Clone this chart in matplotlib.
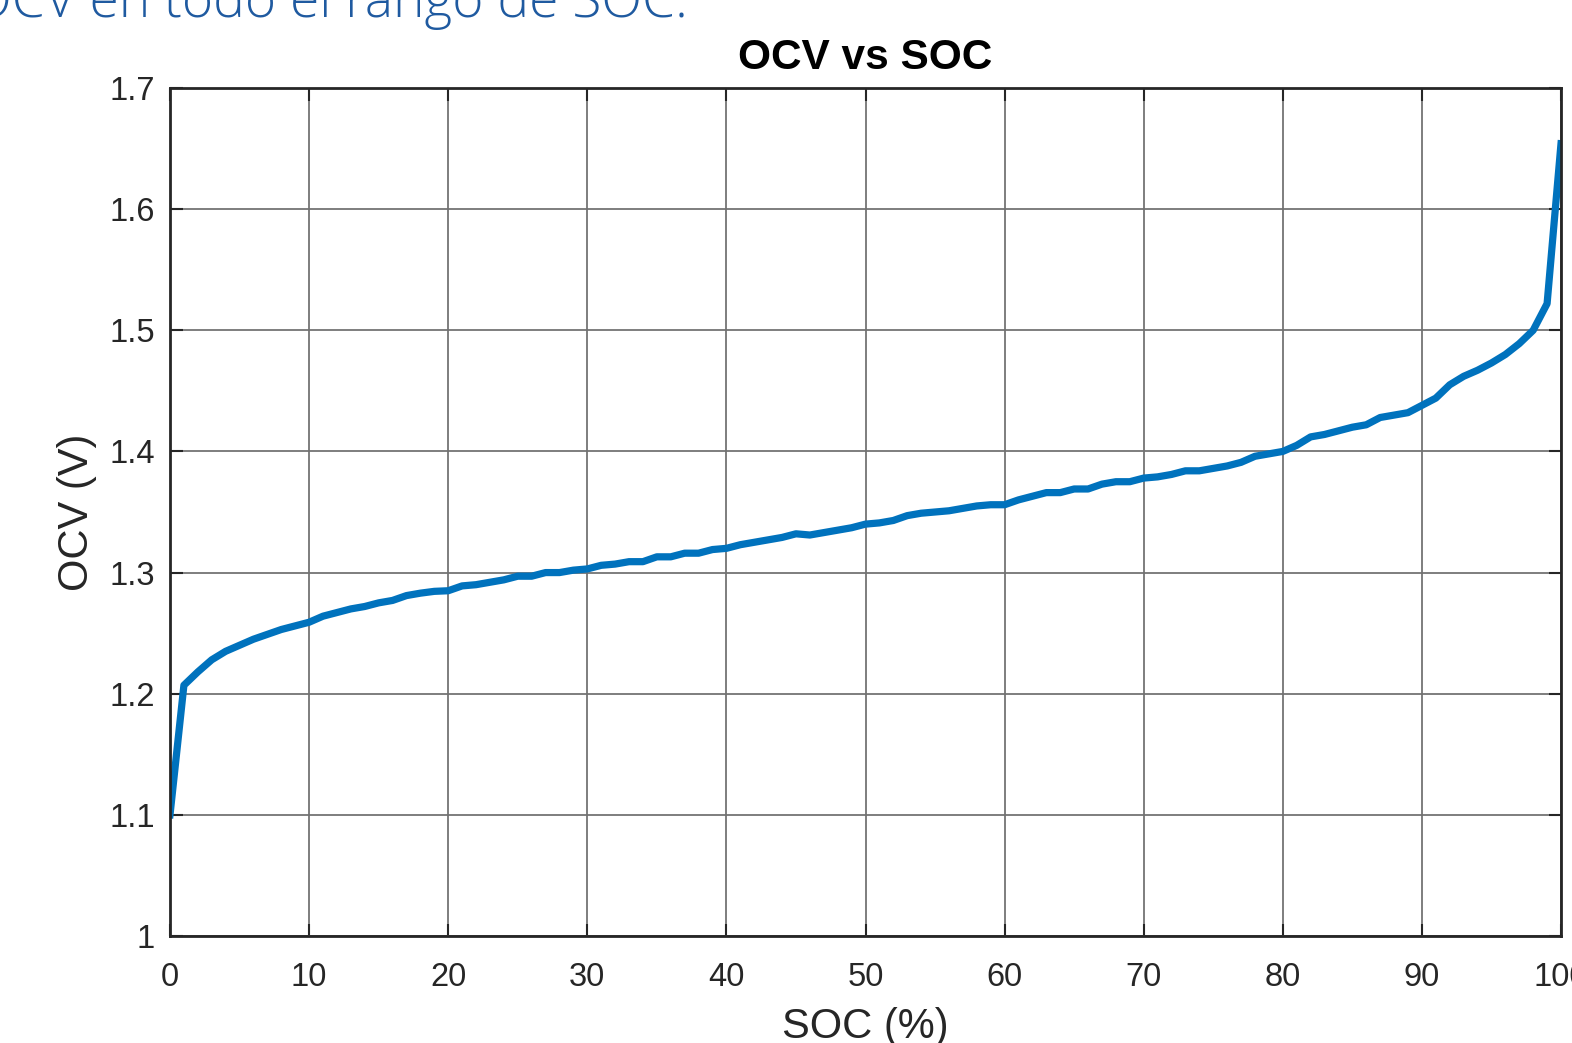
import numpy as np
import matplotlib
matplotlib.use("Agg")
import matplotlib.pyplot as plt

# ---------------- DATA ----------------
soc = list(range(0, 101))
ocv = [
    1.100, 1.207, 1.218, 1.228, 1.235, 1.240, 1.245, 1.249, 1.253, 1.256,
    1.259, 1.264, 1.267, 1.270, 1.272, 1.275, 1.277, 1.281, 1.283, 1.2845,
    1.285, 1.289, 1.290, 1.292, 1.294, 1.297, 1.297, 1.300, 1.300, 1.302,
    1.303, 1.306, 1.307, 1.309, 1.309, 1.313, 1.313, 1.316, 1.316, 1.319,
    1.320, 1.323, 1.325, 1.327, 1.329, 1.332, 1.331, 1.333, 1.335, 1.337,
    1.340, 1.341, 1.343, 1.347, 1.349, 1.350, 1.351, 1.353, 1.355, 1.356,
    1.356, 1.360, 1.363, 1.366, 1.366, 1.369, 1.369, 1.373, 1.375, 1.375,
    1.378, 1.379, 1.381, 1.384, 1.384, 1.386, 1.388, 1.391, 1.396, 1.398,
    1.400, 1.405, 1.412, 1.414, 1.417, 1.420, 1.422, 1.428, 1.430, 1.432,
    1.438, 1.444, 1.455, 1.462, 1.467, 1.473, 1.480, 1.489, 1.500, 1.522,
    1.654,
]
x_ticks = [0, 10, 20, 30, 40, 50, 60, 70, 80, 90, 100]
y_ticks = [1.0, 1.1, 1.2, 1.3, 1.4, 1.5, 1.6, 1.7]
y_tick_labels = ["1", "1.1", "1.2", "1.3", "1.4", "1.5", "1.6", "1.7"]

plt.rcParams["font.family"] = ["Liberation Sans", "DejaVu Sans"]

W, H = 1572, 1043
fig = plt.figure(figsize=(W / 100, H / 100), dpi=100)
fig.patch.set_facecolor("white")

# axes box placed in pixel coordinates of the reference
left, right, top, bottom = 170, 1561, 88, 936
ax = fig.add_axes([left / W, 1 - bottom / H, (right - left) / W, (bottom - top) / H])

ax.plot(soc, ocv, color="#0072BD", linewidth=5.2, solid_joinstyle="round")

ax.set_xlim(0, 100)
ax.set_ylim(1.0, 1.7)
ax.set_xticks(x_ticks)
ax.set_yticks(y_ticks)
ax.set_yticklabels(y_tick_labels)

ax.grid(True, color="#707070", linewidth=1.4, alpha=0.9)
ax.set_axisbelow(True)
for s in ax.spines.values():
    s.set_color("#262626")
    s.set_linewidth(2)

ax.tick_params(axis="both", direction="in", length=9, width=1.5,
               colors="#262626", labelsize=23.5, top=True, right=True)
ax.tick_params(axis="x", pad=19)
ax.tick_params(axis="y", pad=11)

ax.set_title("OCV vs SOC", fontsize=30.5, fontweight="bold", pad=14)
ax.set_xlabel("SOC (%)", fontsize=30, color="#262626", labelpad=10)
ax.set_ylabel("OCV (V)", fontsize=30, color="#262626", labelpad=9)

# slide text cut off at the top of the screenshot
fig.text(688 / W, 1 - 17 / H, "OCV en todo el rango de SOC.", ha="right",
         va="baseline", fontsize=38.3, color="#1f5aa0",
         family=["Open Sans", "DejaVu Sans"], fontweight="light")

plt.savefig("out.png", dpi=100)
plt.close()
